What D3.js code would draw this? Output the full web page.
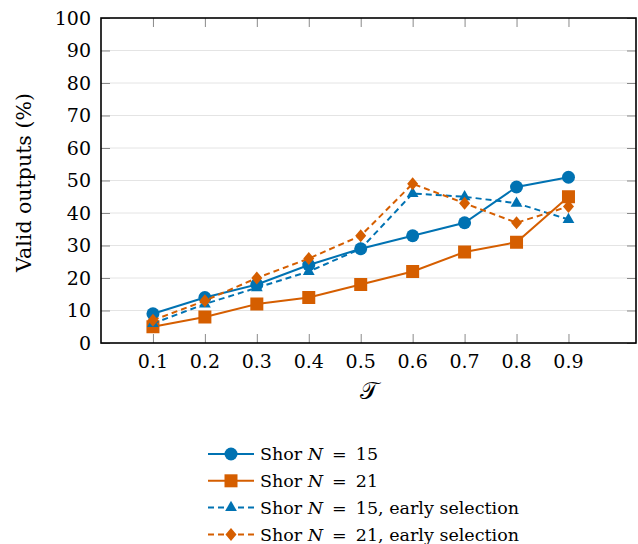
<!DOCTYPE html>
<html>
<head>
<meta charset="utf-8">
<script src="https://cdn.jsdelivr.net/npm/d3@7"></script>
<style>
  body { margin: 0; background: #fff; }
  svg { font-family: "DejaVu Serif", "Liberation Serif", serif; }
</style>
</head>
<body>
<svg width="638" height="544"></svg>
<script>
// x values (T threshold)
const taus = [0.1, 0.2, 0.3, 0.4, 0.5, 0.6, 0.7, 0.8, 0.9];

// valid outputs (%) per series
const shor15 = [9, 14, 18, 24, 29, 33, 37, 48, 51];
const shor21 = [5, 8, 12, 14, 18, 22, 28, 31, 45];
const shor15Early = [6, 12, 17, 22, 29, 46, 45, 43, 38];
const shor21Early = [7, 13, 20, 26, 33, 49, 43, 37, 42];

const yTicks = [0, 10, 20, 30, 40, 50, 60, 70, 80, 90, 100];

const BLUE = "#0072b2";
const ORANGE = "#d55e00";

const series = [
    { name: "15", early: false, values: shor15, color: BLUE, marker: "circle" },
    { name: "21", early: false, values: shor21, color: ORANGE, marker: "square" },
    { name: "15", early: true, values: shor15Early, color: BLUE, marker: "triangle" },
    { name: "21", early: true, values: shor21Early, color: ORANGE, marker: "diamond" }
];

const svg = d3.select("svg");
const margin = { top: 18, right: 2, bottom: 201, left: 101 };
const width = +svg.attr("width") - margin.left - margin.right;
const height = +svg.attr("height") - margin.top - margin.bottom;

const g = svg.append("g").attr("transform", `translate(${margin.left},${margin.top})`);

const x = d3.scaleLinear().domain([0, 1.03]).range([0, width]);
const y = d3.scaleLinear().domain([0, 100]).range([height, 0]);

// grid lines
g.append("g")
    .selectAll("line")
    .data(yTicks.slice(1, -1))
    .join("line")
    .attr("x1", 0).attr("x2", width)
    .attr("y1", d => y(d)).attr("y2", d => y(d))
    .attr("stroke", "#e4e4e4")
    .attr("stroke-width", 1);

// inward ticks on all four sides
const TICK = 9;
const tickColor = "#8a8a8a";
g.append("g").attr("class", "axis-x")
    .attr("transform", `translate(0,${height})`)
    .call(d3.axisTop(x).tickValues(taus).tickSize(TICK).tickFormat(""));
g.append("g").attr("class", "axis-x-top")
    .call(d3.axisBottom(x).tickValues(taus).tickSize(TICK).tickFormat(""));
g.append("g").attr("class", "axis-y")
    .call(d3.axisRight(y).tickValues(yTicks).tickSize(TICK).tickFormat(""));
g.append("g").attr("class", "axis-y-right")
    .attr("transform", `translate(${width},0)`)
    .call(d3.axisLeft(y).tickValues(yTicks).tickSize(TICK).tickFormat(""));
g.selectAll(".tick line").attr("stroke", tickColor).attr("stroke-width", 1);
g.selectAll(".domain").remove();

// tick labels
g.append("g")
    .selectAll("text")
    .data(yTicks)
    .join("text")
    .attr("x", -10)
    .attr("y", d => y(d))
    .attr("dy", "0.36em")
    .attr("text-anchor", "end")
    .attr("font-size", "19px")
    .text(d => d);

g.append("g")
    .selectAll("text")
    .data(taus)
    .join("text")
    .attr("x", d => x(d))
    .attr("y", height + 25)
    .attr("text-anchor", "middle")
    .attr("font-size", "19px")
    .text(d => d.toFixed(1));

// axis titles
svg.append("text")
    .attr("transform", `translate(31,${margin.top + height / 2 + 2}) rotate(-90)`)
    .attr("text-anchor", "middle")
    .attr("font-size", "20.5px")
    .text("Valid outputs (%)");

svg.append("text")
    .attr("x", margin.left + width / 2)
    .attr("y", 399)
    .attr("text-anchor", "middle")
    .attr("font-size", "24px")
    .text("\u{1D4AF}");

// marker drawing
function drawMarker(sel, type, color) {
    if (type === "circle") {
        sel.append("circle").attr("r", 6.5).attr("fill", color);
    } else if (type === "square") {
        sel.append("rect").attr("x", -6.5).attr("y", -6.5).attr("width", 13).attr("height", 13).attr("fill", color);
    } else if (type === "triangle") {
        sel.append("path").attr("d", d3.symbol(d3.symbolTriangle, 60)()).attr("fill", color);
    } else {
        sel.append("path").attr("d", "M0,-6.5L5.5,0L0,6.5L-5.5,0Z").attr("fill", color);
    }
}

const line = d3.line()
    .x((d, i) => x(taus[i]))
    .y(d => y(d));

series.forEach(s => {
    g.append("path")
        .datum(s.values)
        .attr("fill", "none")
        .attr("stroke", s.color)
        .attr("stroke-width", 2)
        .attr("stroke-dasharray", s.early ? "6 4" : null)
        .attr("d", line);
    s.values.forEach((v, i) => {
        const m = g.append("g").attr("transform", `translate(${x(taus[i])},${y(v)})`);
        drawMarker(m, s.marker, s.color);
    });
});

// frame
g.append("rect")
    .attr("width", width).attr("height", height)
    .attr("fill", "none")
    .attr("stroke", "#000")
    .attr("stroke-width", 1.6);

// legend
const legend = svg.append("g").attr("transform", "translate(208,454)");
series.forEach((s, i) => {
    const row = legend.append("g").attr("transform", `translate(0,${i * 26.8})`);
    row.append("line")
        .attr("x1", 0).attr("x2", 46)
        .attr("stroke", s.color)
        .attr("stroke-width", 2)
        .attr("stroke-dasharray", s.early ? "6 4" : null);
    const m = row.append("g").attr("transform", "translate(23,0)");
    drawMarker(m, s.marker, s.color);
    const t = row.append("text")
        .attr("x", 52)
        .attr("dy", "0.36em")
        .attr("font-size", "17.5px");
    t.append("tspan").text("Shor ");
    t.append("tspan").attr("font-style", "italic").text("N");
    t.append("tspan").text(" \u2009=\u2009 " + s.name + (s.early ? ", early selection" : ""));
});
</script>
</body>
</html>
